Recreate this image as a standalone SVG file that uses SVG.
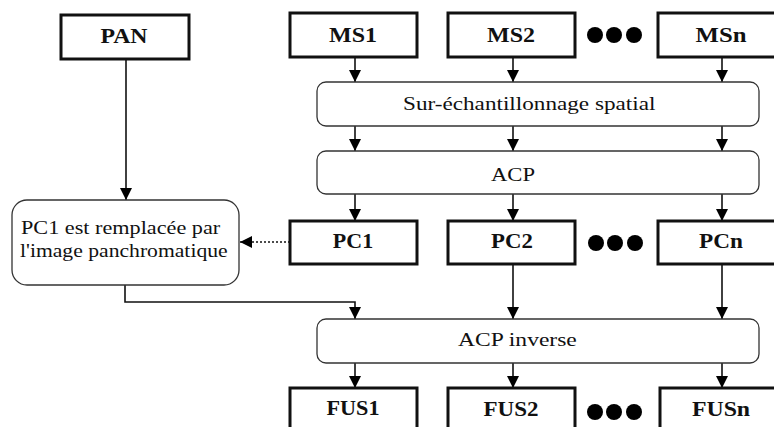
<svg xmlns="http://www.w3.org/2000/svg" width="774" height="427" viewBox="0 0 774 427">
<defs>
<marker id="ah" markerUnits="userSpaceOnUse" markerWidth="12" markerHeight="12" viewBox="0 0 10 10" refX="10" refY="5" orient="auto">
<path d="M0,0 L10,5 L0,10 z" fill="#000"/>
</marker>
</defs>
<rect width="774" height="427" fill="#fff"/>
<g id="connectors" fill="none" stroke="#111" stroke-width="1.6" marker-end="url(#ah)">
<line x1="126" y1="59" x2="126" y2="200"/>
<line x1="355" y1="57" x2="355" y2="82"/>
<line x1="513" y1="57" x2="513" y2="82"/>
<line x1="722" y1="57" x2="722" y2="82"/>
<line x1="355" y1="126" x2="355" y2="151"/>
<line x1="513" y1="126" x2="513" y2="151"/>
<line x1="722" y1="126" x2="722" y2="151"/>
<line x1="355" y1="194" x2="355" y2="221"/>
<line x1="513" y1="194" x2="513" y2="221"/>
<line x1="722" y1="194" x2="722" y2="221"/>
<line x1="290" y1="242" x2="240" y2="242" stroke-dasharray="2,2"/>
<polyline points="125,285 125,302 355,302 355,319"/>
<line x1="513" y1="264" x2="513" y2="319"/>
<line x1="722" y1="264" x2="722" y2="319"/>
<line x1="355" y1="363" x2="355" y2="388"/>
<line x1="513" y1="363" x2="513" y2="388"/>
<line x1="722" y1="363" x2="722" y2="388"/>
</g>
<g id="square-nodes" fill="#fff" stroke="#111" stroke-width="3">
<g id="pan"><rect x="61" y="15" width="128" height="44"/></g>
<g id="ms1"><rect x="290" y="13" width="127" height="44"/></g>
<g id="ms2"><rect x="448" y="13" width="127" height="44"/></g>
<g id="msn"><rect x="658" y="13" width="130" height="44"/></g>
<g id="pc1"><rect x="290" y="221" width="127" height="43"/></g>
<g id="pc2"><rect x="448" y="221" width="127" height="43"/></g>
<g id="pcn"><rect x="658" y="221" width="130" height="43"/></g>
<g id="fus1"><rect x="290" y="388" width="127" height="50"/></g>
<g id="fus2"><rect x="448" y="388" width="127" height="50"/></g>
<g id="fusn"><rect x="660" y="388" width="130" height="50"/></g>
</g>
<g id="round-nodes" fill="#fff" stroke="#333" stroke-width="1.3">
<g id="sur"><rect x="317" y="82" width="442" height="44" rx="9"/></g>
<g id="acp"><rect x="317" y="151" width="442" height="43" rx="9"/></g>
<g id="replace"><rect x="12" y="200" width="227" height="85" rx="15"/></g>
<g id="acpinv"><rect x="317" y="319" width="442" height="44" rx="9"/></g>
</g>
<g id="dots" fill="#000">
<circle cx="595" cy="35" r="8"/><circle cx="614" cy="35" r="8"/><circle cx="634" cy="35" r="8"/>
<circle cx="596" cy="243" r="8"/><circle cx="615" cy="243" r="8"/><circle cx="635" cy="243" r="8"/>
<circle cx="595" cy="412" r="8"/><circle cx="614" cy="412" r="8"/><circle cx="634" cy="412" r="8"/>
</g>
<g id="labels" font-family="Liberation Serif" font-weight="bold" font-size="20" fill="#111" text-anchor="middle">
<text transform="translate(124,43) scale(1.19,1)">PAN</text>
<text transform="translate(353,42) scale(1.2,1)">MS1</text>
<text transform="translate(511,42) scale(1.2,1)">MS2</text>
<text transform="translate(721,42) scale(1.24,1)">MSn</text>
<text transform="translate(353,248) scale(1.1,1)">PC1</text>
<text transform="translate(512,248) scale(1.14,1)">PC2</text>
<text transform="translate(721,248) scale(1.16,1)">PCn</text>
<text transform="translate(353,415) scale(1.11,1)">FUS1</text>
<text transform="translate(511,416) scale(1.15,1)">FUS2</text>
<text transform="translate(721,416) scale(1.19,1)">FUSn</text>
</g>
<g id="texts" font-family="Liberation Serif" font-size="19" fill="#111">
<text transform="translate(403,110) scale(1.22,1)">Sur-échantillonnage spatial</text>
<text transform="translate(491,181) scale(1.19,1)">ACP</text>
<text transform="translate(21,234) scale(1.17,1)">PC1 est remplacée par</text>
<text transform="translate(20,257) scale(1.14,1)">l'image panchromatique</text>
<text transform="translate(458,346) scale(1.24,1)">ACP inverse</text>
</g>
</svg>
